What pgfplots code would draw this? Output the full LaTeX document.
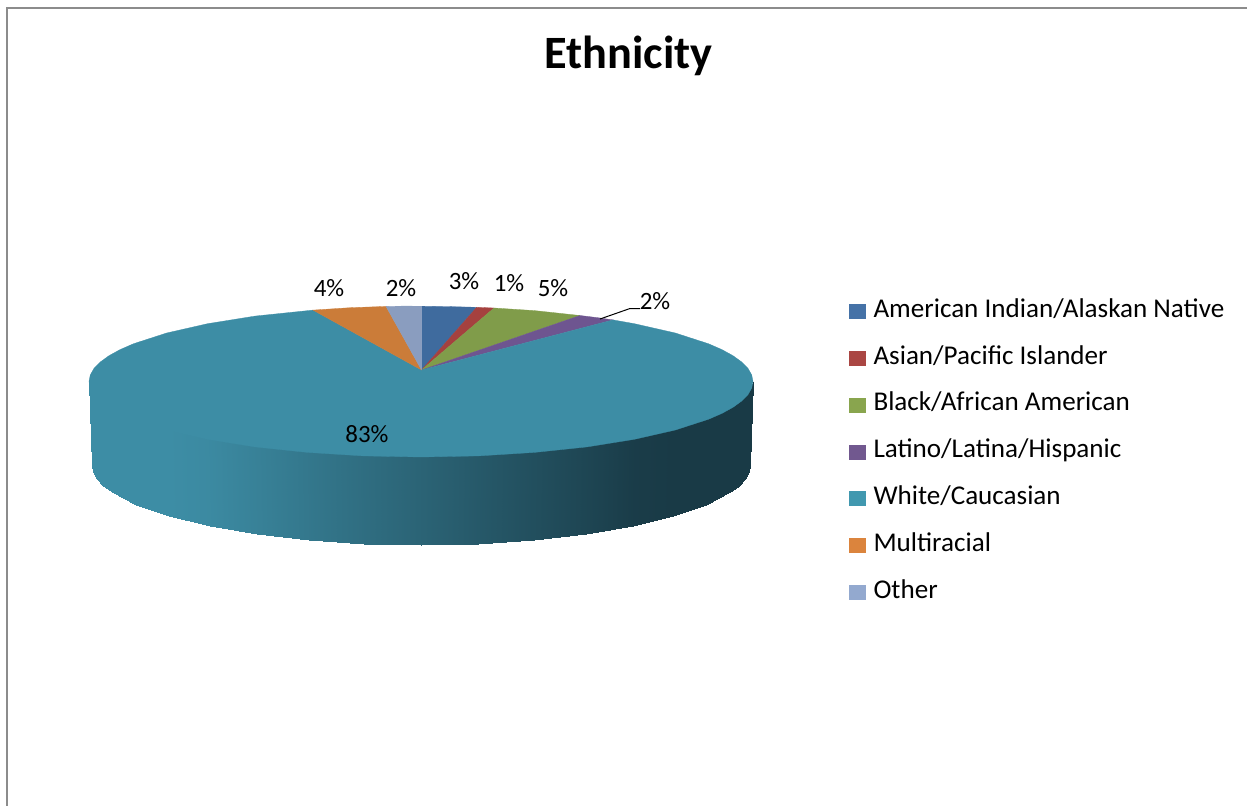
\documentclass[border=0pt]{standalone}
\usepackage{pgfplots}
\pgfplotsset{compat=1.18}
\usepackage{fontspec}
\setmainfont{Carlito}

\definecolor{cBlue}{HTML}{3F6B9E}
\definecolor{cRed}{HTML}{A5413F}
\definecolor{cGreen}{HTML}{809C4A}
\definecolor{cPurple}{HTML}{6E5590}
\definecolor{cTeal}{HTML}{3D8DA5}
\definecolor{cOrange}{HTML}{CB7C39}
\definecolor{cOther}{HTML}{8A9DBF}
\definecolor{lBlue}{HTML}{4572A7}
\definecolor{lRed}{HTML}{AA4643}
\definecolor{lGreen}{HTML}{89A54E}
\definecolor{lPurple}{HTML}{71588F}
\definecolor{lTeal}{HTML}{4198AF}
\definecolor{lOrange}{HTML}{DB843D}
\definecolor{lOther}{HTML}{93A9CF}

\pgfplotsset{
  colormap={side}{rgb255=(61,141,165) rgb255=(25,58,70)},
  swatch/.style={legend image code/.code={\fill[#1] (0bp,-6bp) rectangle (16bp,8bp);}},
}

\begin{document}
\begin{tikzpicture}
\begin{axis}[
    scale only axis, width=1247bp, height=806bp,
    xmin=0, xmax=1247, ymin=0, ymax=806, y dir=reverse,
    hide axis, clip=true,
    colormap name=side, point meta min=0, point meta max=1,
    legend style={at={(axis cs:849,300)}, anchor=north west, draw=none, fill=none,
      inner sep=0pt, row sep=22.85bp, column sep=8bp,
      nodes={inner sep=0pt, text height=17bp, text depth=7bp},
      font=\fontsize{27.2}{32}\selectfont},
    legend cell align=left,
]
\path (rel axis cs:0,0) rectangle (rel axis cs:1,1);

% chart frame
\addplot[forget plot, color=black!45, line width=2bp] coordinates {(7,806) (7,8) (1247,8)};

% side of the disc, its upper row runs a little under the top face
\addplot[forget plot, surf, shader=interp, mesh/rows=2, mesh/cols=23, point meta=\thisrow{c}] table[x=x, y=y] {
x y c
89 381.5 0
90.3 384 0
94 390 0
100.3 396 0
109 402 0
133.5 414 0
166.7 425 0
207.6 434 .04
255 442 .14
307.5 447 .26
363.4 451 .38
421 452 .50
478.6 451 .63
534.5 447 .75
587 442 .86
634.4 434 .97
675.3 425 1
708.5 414 1
733 402 1
741.7 396 1
748 390 1
751.7 384 1
753 381.5 1
92 465 0
93.3 472 0
97 478.9 0
103.2 485.7 0
111.8 492.4 0
136.1 505 0
169 516.4 0
209.5 526.3 .04
256.5 534.3 .14
308.5 540.2 .26
363.9 543.8 .38
421 545 .50
478.1 543.8 .63
533.5 540.2 .75
585.5 534.3 .86
632.5 526.3 .97
673 516.4 1
705.9 505 1
730.2 492.4 1
738.8 485.7 1
745 478.9 1
748.7 472 1
750 465 1
};

% top face, one slice per series
\addplot[fill=cBlue, draw=cBlue, line width=.3bp, swatch=lBlue] coordinates
  {(421.5,370) (421.5,306.2) (450,306.6) (476.7,307.3) (421.5,370)};
\addplot[fill=cRed, draw=cRed, line width=.3bp, swatch=lRed] coordinates
  {(421.5,370) (476.7,307.3) (494,308) (421.5,370)};
\addplot[fill=cGreen, draw=cGreen, line width=.3bp, swatch=lGreen] coordinates
  {(421.5,370) (494,308) (534.5,310.6) (580,315.5) (421.5,370)};
\addplot[fill=cPurple, draw=cPurple, line width=.3bp, swatch=lPurple] coordinates
  {(421.5,370) (580,315.5) (597,317.6) (613,319.9) (421.5,370)};
\addplot[fill=cTeal, draw=cTeal, line width=.3bp, swatch=lTeal] coordinates
  {(421.5,370) (613,319.9) (634.4,323.7) (675.3,333) (708.5,343.75) (721.9,349.6) (733,355.7)
   (741.7,362) (748,368.4) (751.7,374.9) (753,381.5) (751.7,388.1) (748,394.6) (741.7,401)
   (733,407.3) (721.9,413.4) (708.5,419.25) (675.3,430) (634.4,439.3) (587,446.9) (534.5,452.4)
   (478.6,455.9) (421,457) (363.4,455.9) (307.5,452.4) (255,446.9) (207.6,439.3) (166.7,430)
   (133.5,419.25) (120.1,413.4) (109,407.3) (100.3,401) (94,394.6) (90.3,388.1) (89,381.5)
   (90.3,374.9) (94,368.4) (100.3,362) (109,355.7) (120.1,349.6) (133.5,343.75) (166.7,333)
   (207.6,323.7) (255,316.1) (313,310.1) (421.5,370)};
\addplot[fill=cOrange, draw=cOrange, line width=.3bp, swatch=lOrange] coordinates
  {(421.5,370) (313,310.1) (350,307.7) (386,306.4) (421.5,370)};
\addplot[fill=cOther, draw=cOther, line width=.3bp, swatch=lOther] coordinates
  {(421.5,370) (386,306.4) (404,306.1) (421.5,306.2) (421.5,370)};

% leader line of the 2% label
\addplot[forget plot, black, line width=1bp] coordinates {(600,319) (630,308.5) (640,308.5)};

\legend{American Indian/Alaskan Native, Asian/Pacific Islander, Black/African American,
  Latino/Latina/Hispanic, White/Caucasian, Multiracial, Other}

\node[font=\fontsize{46.5}{52}\selectfont\bfseries] at (axis cs:628.5,55.5) {Ethnicity};
\begin{scope}[every node/.style={font=\fontsize{25}{29}\selectfont}]
\node at (axis cs:464,281) {3\%};
\node at (axis cs:509,283) {1\%};
\node at (axis cs:553,288) {5\%};
\node at (axis cs:655,301) {2\%};
\node at (axis cs:329,288) {4\%};
\node at (axis cs:401,288) {2\%};
\node at (axis cs:367,434) {83\%};
\end{scope}
\end{axis}
\end{tikzpicture}
\end{document}
